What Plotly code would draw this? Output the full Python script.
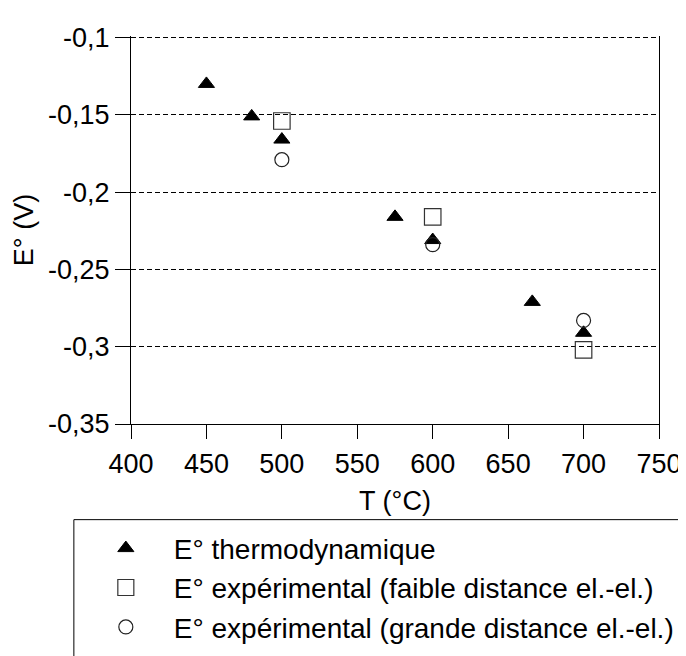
import plotly.graph_objects as go

# Data
T_thermo = [450, 480, 500, 575, 600, 666, 700]
E_thermo = [-0.130, -0.151, -0.166, -0.216, -0.231, -0.271, -0.291]

T_faible = [500, 600, 700]
E_faible = [-0.154, -0.216, -0.302]

T_grande = [500, 600, 700]
E_grande = [-0.179, -0.234, -0.283]

y_tickvals = [-0.1, -0.15, -0.2, -0.25, -0.3, -0.35]
y_ticktext = ["-0,1", "-0,15", "-0,2", "-0,25", "-0,3", "-0,35"]
x_tickvals = [400, 450, 500, 550, 600, 650, 700, 750]

names = [
    "E° thermodynamique",
    "E° expérimental (faible distance el.-el.)",
    "E° expérimental (grande distance el.-el.)",
]

FONT = "Liberation Sans, Arial, sans-serif"
FS = 27
FS_LEG = 28

fig = go.Figure()
fig.add_trace(go.Scatter(
    x=T_thermo, y=E_thermo, mode="markers", name=names[0],
    marker=dict(symbol="triangle-up", size=14, color="black",
                line=dict(width=1, color="black")),
))
fig.add_trace(go.Scatter(
    x=T_faible, y=E_faible, mode="markers", name=names[1],
    marker=dict(symbol="square-open", size=16.5, color="#333333", line=dict(width=1.2)),
))
fig.add_trace(go.Scatter(
    x=T_grande, y=E_grande, mode="markers", name=names[2],
    marker=dict(symbol="circle-open", size=14, color="#222222", line=dict(width=1.2)),
))

# legend frame (open to the right and bottom, as in the reference)
fig.add_shape(type="rect", xref="paper", yref="paper",
              x0=-0.1082, x1=1.2, y0=-0.2465, y1=-0.7,
              line=dict(color="black", width=1), fillcolor="rgba(0,0,0,0)",
              layer="below")

fig.update_layout(
    width=686, height=656,
    margin=dict(l=123, r=27, t=28.4, b=226),
    paper_bgcolor="white", plot_bgcolor="white",
    font=dict(family=FONT, size=FS, color="black"),
    showlegend=True,
    legend=dict(
        x=-0.1007, y=-0.2562, xanchor="left", yanchor="top",
        borderwidth=0, bgcolor="rgba(0,0,0,0)",
        font=dict(family=FONT, size=FS_LEG, color="black"),
        itemsizing="trace", itemwidth=86, tracegroupgap=0,
    ),
    xaxis=dict(
        range=[400, 750], tickvals=x_tickvals,
        showline=True, linecolor="black", linewidth=1,
        ticks="outside", ticklen=14, tickcolor="black", tickwidth=1,
        ticklabelstandoff=2,
        showgrid=False, zeroline=False,
        title=dict(text="T (°C)", font=dict(size=FS), standoff=12),
        tickfont=dict(size=FS),
    ),
    yaxis=dict(
        range=[-0.35, -0.099], tickvals=y_tickvals, ticktext=y_ticktext,
        showline=True, linecolor="black", linewidth=1, mirror=True,
        ticks="outside", ticklen=15, tickcolor="black", tickwidth=1,
        showgrid=True, gridcolor="black", gridwidth=1, griddash="5px,3px",
        zeroline=False,
        title=dict(text="E° (V)", font=dict(size=FS), standoff=6),
        tickfont=dict(size=FS),
    ),
)

fig.write_html("out.html")
